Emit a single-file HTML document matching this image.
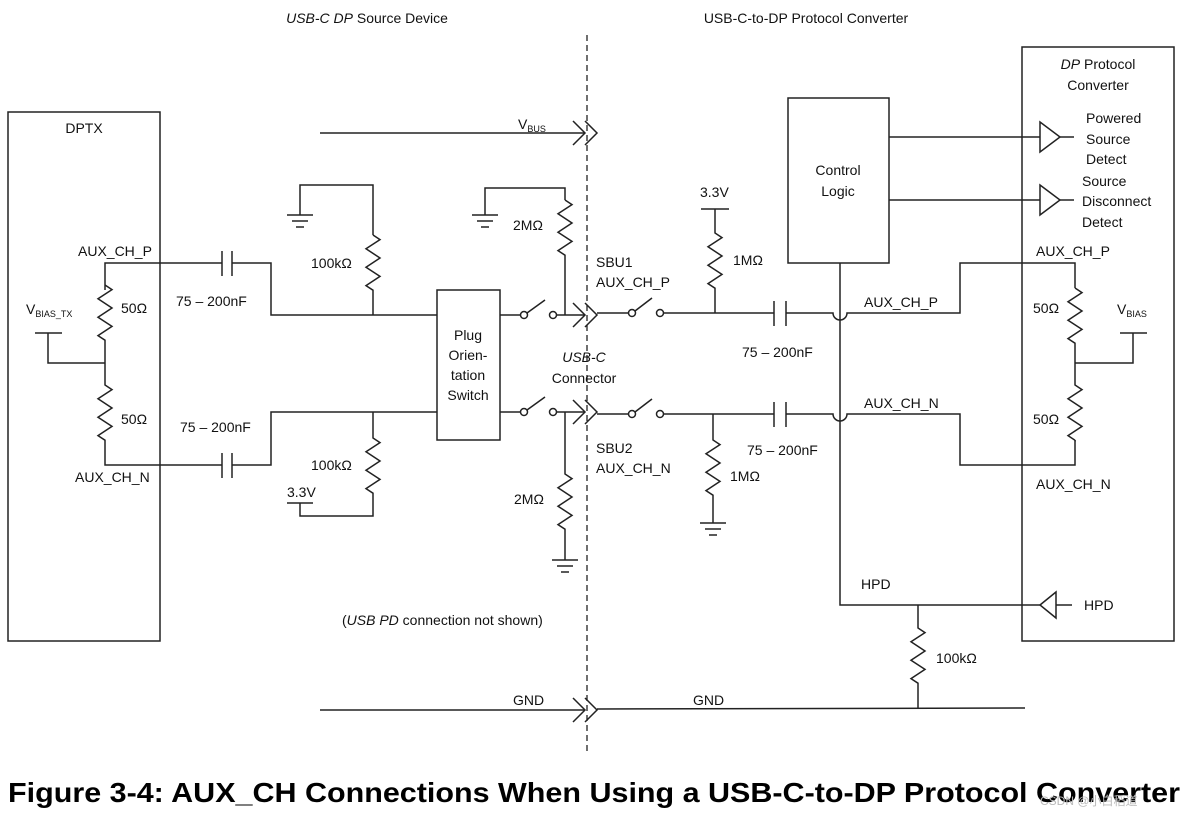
<!DOCTYPE html>
<html><head><meta charset="utf-8"><style>
body{margin:0;background:#fff;}
svg{display:block;}
text{font-family:"Liberation Sans",sans-serif;font-size:14px;fill:#111;}
.w{stroke:#222;stroke-width:1.5;fill:none;}
</style></head><body>
<svg width="1186" height="815" viewBox="0 0 1186 815" xmlns="http://www.w3.org/2000/svg">
<!-- headers -->
<text x="367" y="23" text-anchor="middle"><tspan font-style="italic">USB-C DP</tspan> Source Device</text>
<text x="806" y="23" text-anchor="middle">USB-C-to-DP Protocol Converter</text>
<line x1="587" y1="35" x2="587" y2="755" stroke="#222" stroke-width="1.3" stroke-dasharray="6,4"/>
<!-- boxes -->
<rect class="w" x="8" y="112" width="152" height="529"/>
<text x="84" y="133" text-anchor="middle">DPTX</text>
<rect class="w" x="1022" y="47" width="152" height="594"/>
<text x="1098" y="69" text-anchor="middle"><tspan font-style="italic">DP</tspan> Protocol</text>
<text x="1098" y="90" text-anchor="middle">Converter</text>
<!-- VBUS -->
<line class="w" x1="320" y1="133" x2="585" y2="133"/>
<polyline class="w" points="573,121 585,133 573,145"/><polyline class="w" points="585,121 597,133 585,145"/>
<text x="518" y="129">V<tspan font-size="9" dy="3">BUS</tspan></text>
<!-- left AUX P -->
<text x="78" y="256">AUX_CH_P</text>
<polyline class="w" points="105,290 105,263 222,263"/>
<line class="w" x1="222" y1="251" x2="222" y2="276"/><line class="w" x1="232" y1="251" x2="232" y2="276"/>
<polyline class="w" points="232,263 271,263 271,315 437,315"/>
<path class="w" d="M105 285 l7 4.6 l-14 9.2 l14 9.2 l-14 9.2 l14 9.2 l-14 9.2 l7 4.6 L105 385 l7 4.6 l-14 9.2 l14 9.2 l-14 9.2 l14 9.2 l-14 9.2 l7 4.6 L105 465 L222 465"/>
<text x="121" y="313">50Ω</text><text x="121" y="424">50Ω</text>
<polyline class="w" points="105,363 48,363 48,333"/><line class="w" x1="35" y1="333" x2="62" y2="333"/>
<text x="26" y="314">V<tspan font-size="9" dy="3">BIAS_TX</tspan></text>
<line class="w" x1="222" y1="453" x2="222" y2="478"/><line class="w" x1="232" y1="453" x2="232" y2="478"/>
<polyline class="w" points="232,465 271,465 271,412 437,412"/>
<text x="75" y="482">AUX_CH_N</text>
<text x="176" y="306">75 – 200nF</text><text x="180" y="432">75 – 200nF</text>
<!-- 100k top -->
<polyline class="w" points="300,215 300,185 373,185 373,235"/>
<path class="w" d="M373 235 l7 4.6 l-14 9.2 l14 9.2 l-14 9.2 l14 9.2 l-14 9.2 l7 4.6 L373 315"/>
<g class="w"><line x1="287" y1="215" x2="313" y2="215"/><line x1="292" y1="221" x2="308" y2="221"/><line x1="296" y1="227" x2="304" y2="227"/></g>
<text x="311" y="268">100kΩ</text>
<!-- 100k bottom -->
<path class="w" d="M373 412 L373 438 l7 4.6 l-14 9.2 l14 9.2 l-14 9.2 l14 9.2 l-14 9.2 l7 4.6 L373 516 L300 516 L300 503"/>
<line class="w" x1="287" y1="503" x2="313" y2="503"/>
<text x="287" y="497">3.3V</text><text x="311" y="470">100kΩ</text>
<!-- plug switch -->
<rect class="w" x="437" y="290" width="63" height="150"/>
<text x="468" y="340" text-anchor="middle">Plug</text><text x="468" y="360" text-anchor="middle">Orien-</text>
<text x="468" y="380" text-anchor="middle">tation</text><text x="468" y="400" text-anchor="middle">Switch</text>
<!-- left switches -->
<g class="w">
<line x1="500" y1="315" x2="520" y2="315"/><circle cx="524" cy="315" r="3.5"/><line x1="527" y1="313" x2="545" y2="300"/><circle cx="553" cy="315" r="3.5"/><line x1="556" y1="315" x2="585" y2="315"/>
<polyline points="573,303 585,315 573,327"/><polyline points="585,303 597,315 585,327"/>
<line x1="500" y1="412" x2="520" y2="412"/><circle cx="524" cy="412" r="3.5"/><line x1="527" y1="410" x2="545" y2="397"/><circle cx="553" cy="412" r="3.5"/><line x1="556" y1="412" x2="585" y2="412"/>
<polyline points="573,400 585,412 573,424"/><polyline points="585,400 597,412 585,424"/>
</g>
<!-- 2M top -->
<polyline class="w" points="485,215 485,188 565,188 565,200"/>
<path class="w" d="M565 200 l7 4.6 l-14 9.2 l14 9.2 l-14 9.2 l14 9.2 l-14 9.2 l7 4.6 L565 315"/>
<g class="w"><line x1="472" y1="215" x2="498" y2="215"/><line x1="477" y1="221" x2="493" y2="221"/><line x1="481" y1="227" x2="489" y2="227"/></g>
<text x="513" y="230">2MΩ</text>
<!-- 2M bottom -->
<path class="w" d="M565 412 L565 474 l7 4.6 l-14 9.2 l14 9.2 l-14 9.2 l14 9.2 l-14 9.2 l7 4.6 L565 560"/>
<g class="w"><line x1="552" y1="560" x2="578" y2="560"/><line x1="557" y1="566" x2="573" y2="566"/><line x1="561" y1="572" x2="569" y2="572"/></g>
<text x="514" y="504">2MΩ</text>
<text x="596" y="267">SBU1</text><text x="596" y="287">AUX_CH_P</text>
<text x="596" y="453">SBU2</text><text x="596" y="473">AUX_CH_N</text>
<text x="584" y="362" text-anchor="middle" font-style="italic">USB-C</text><text x="584" y="383" text-anchor="middle">Connector</text>
<!-- right switches -->
<g class="w">
<line x1="597" y1="313" x2="628" y2="313"/><circle cx="632" cy="313" r="3.5"/><line x1="635" y1="311" x2="652" y2="298"/><circle cx="660" cy="313" r="3.5"/><line x1="663" y1="313" x2="774" y2="313"/>
<line x1="774" y1="301" x2="774" y2="326"/><line x1="786" y1="301" x2="786" y2="326"/>
<path d="M786 313 L833 313 A7 7 0 0 0 847 313 L960 313 L960 263 L1075 263 L1075 288"/>
<line x1="597" y1="414" x2="628" y2="414"/><circle cx="632" cy="414" r="3.5"/><line x1="635" y1="412" x2="652" y2="399"/><circle cx="660" cy="414" r="3.5"/><line x1="663" y1="414" x2="774" y2="414"/>
<line x1="774" y1="402" x2="774" y2="427"/><line x1="786" y1="402" x2="786" y2="427"/>
<path d="M786 414 L833 414 A7 7 0 0 0 847 414 L960 414 L960 465 L1075 465 L1075 440"/>
</g>
<!-- 1M -->
<path class="w" d="M715 209 L715 233 l7 4.6 l-14 9.2 l14 9.2 l-14 9.2 l14 9.2 l-14 9.2 l7 4.6 L715 313"/>
<line class="w" x1="701" y1="209" x2="729" y2="209"/>
<text x="700" y="197">3.3V</text><text x="733" y="265">1MΩ</text>
<path class="w" d="M713 414 L713 440 l7 4.6 l-14 9.2 l14 9.2 l-14 9.2 l14 9.2 l-14 9.2 l7 4.6 L713 523"/>
<g class="w"><line x1="700" y1="523" x2="726" y2="523"/><line x1="705" y1="529" x2="721" y2="529"/><line x1="709" y1="535" x2="717" y2="535"/></g>
<text x="730" y="481">1MΩ</text>
<text x="742" y="357">75 – 200nF</text><text x="747" y="455">75 – 200nF</text>
<text x="864" y="307">AUX_CH_P</text><text x="864" y="408">AUX_CH_N</text>
<!-- control logic -->
<rect class="w" x="788" y="98" width="101" height="165"/>
<text x="838" y="175" text-anchor="middle">Control</text><text x="838" y="196" text-anchor="middle">Logic</text>
<polyline class="w" points="840,263 840,605 1040,605"/>
<text x="861" y="589">HPD</text>
<polygon class="w" points="1040,605 1056,592 1056,618"/><line class="w" x1="1056" y1="605" x2="1072" y2="605"/>
<text x="1084" y="610">HPD</text>
<line class="w" x1="889" y1="137" x2="1040" y2="137"/><polygon class="w" points="1040,122 1060,137 1040,152"/><line class="w" x1="1060" y1="137" x2="1074" y2="137"/>
<line class="w" x1="889" y1="200" x2="1040" y2="200"/><polygon class="w" points="1040,185 1060,200 1040,215"/><line class="w" x1="1060" y1="200" x2="1074" y2="200"/>
<text x="1086" y="123">Powered</text><text x="1086" y="144">Source</text><text x="1086" y="164">Detect</text>
<text x="1082" y="186">Source</text><text x="1082" y="206">Disconnect</text><text x="1082" y="227">Detect</text>
<!-- right bias -->
<path class="w" d="M1075 288 l7 4.6 l-14 9.2 l14 9.2 l-14 9.2 l14 9.2 l-14 9.2 l7 4.6 L1075 385 l7 4.6 l-14 9.2 l14 9.2 l-14 9.2 l14 9.2 l-14 9.2 l7 4.6 L1075 440"/>
<polyline class="w" points="1075,363 1133,363 1133,333"/><line class="w" x1="1120" y1="333" x2="1147" y2="333"/>
<text x="1117" y="314">V<tspan font-size="9" dy="3">BIAS</tspan></text>
<text x="1033" y="313">50Ω</text><text x="1033" y="424">50Ω</text>
<text x="1036" y="256">AUX_CH_P</text><text x="1036" y="489">AUX_CH_N</text>
<!-- HPD resistor -->
<path class="w" d="M918 605 L918 628 l7 4.6 l-14 9.2 l14 9.2 l-14 9.2 l14 9.2 l-14 9.2 l7 4.6 L918 708"/>
<text x="936" y="663">100kΩ</text>
<!-- GND -->
<line class="w" x1="320" y1="710" x2="585" y2="710"/>
<polyline class="w" points="573,698 585,710 573,722"/><polyline class="w" points="585,698 597,710 585,722"/>
<line class="w" x1="597" y1="709" x2="1025" y2="708"/>
<text x="513" y="705">GND</text><text x="693" y="705">GND</text>
<text x="342" y="625">(<tspan font-style="italic">USB PD</tspan> connection not shown)</text>
<!-- caption -->
<text x="8" y="802" style="font-size:28px;font-weight:bold;fill:#000" textLength="1172" lengthAdjust="spacingAndGlyphs">Figure 3-4: AUX_CH Connections When Using a USB-C-to-DP Protocol Converter</text>
<text x="1040" y="805" style="font-size:12px;fill:#bbb">CSDN @小白稻道</text>
</svg>
</body></html>
